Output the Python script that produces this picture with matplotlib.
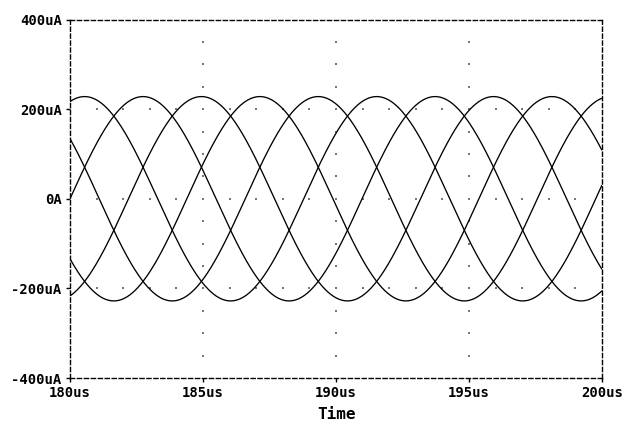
import matplotlib
matplotlib.use("Agg")
import matplotlib.pyplot as plt
import numpy as np

# five-phase current waveforms (PSpice style plot)
amplitud_uA = 228.0
periodo_us = 10.98
fases_grados = [0, 72, 144, 216, 288]

t_inicio = 180.0
t_fin = 200.0

xticks = [180, 185, 190, 195, 200]
xtick_labels = ["180us", "185us", "190us", "195us", "200us"]
yticks = [-400, -200, 0, 200, 400]
ytick_labels = ["-400uA", "-200uA", "0A", "200uA", "400uA"]

fuente = "DejaVu Sans Mono"

fig = plt.figure(figsize=(6.3, 4.29), dpi=100)
ax = fig.add_axes([70 / 630, (429 - 378) / 429, (602 - 70) / 630, (378 - 19.5) / 429])

t = np.linspace(t_inicio, t_fin, 2000)
for fase in fases_grados:
    i = amplitud_uA * np.sin(2 * np.pi * (t - t_inicio) / periodo_us + np.radians(fase))
    ax.plot(t, i, color="black", lw=0.95, solid_capstyle="butt")

# dotted grid: dots every 1us along horizontal lines, every 50uA along vertical lines
gx = np.arange(t_inicio + 1, t_fin, 1.0)
for yv in yticks[1:-1]:
    ax.scatter(gx, np.full_like(gx, yv), s=0.6, color="#777777", marker="s", lw=0)
gy = np.arange(-350, 400, 50)
for xv in xticks[1:-1]:
    ax.scatter(np.full_like(gy, xv, dtype=float), gy, s=0.6, color="#777777", marker="s", lw=0)

ax.set_xlim(t_inicio, t_fin)
ax.set_ylim(-400, 400)

for sp in ax.spines.values():
    sp.set_linestyle((0, (3, 2)))
    sp.set_linewidth(1.0)
    sp.set_color("black")

ax.set_xticks(xticks)
ax.set_xticklabels(xtick_labels)
ax.set_yticks(yticks)
ax.set_yticklabels(ytick_labels)
ax.tick_params(axis="both", direction="out", length=3, width=1, color="black",
               labelsize=10, pad=3)
for lab in ax.get_xticklabels() + ax.get_yticklabels():
    lab.set_fontfamily(fuente)
    lab.set_fontweight("bold")

ax.set_xlabel("Time", fontfamily=fuente, fontweight="bold", fontsize=11.5, labelpad=5)

fig.savefig("out.png", dpi=100)
